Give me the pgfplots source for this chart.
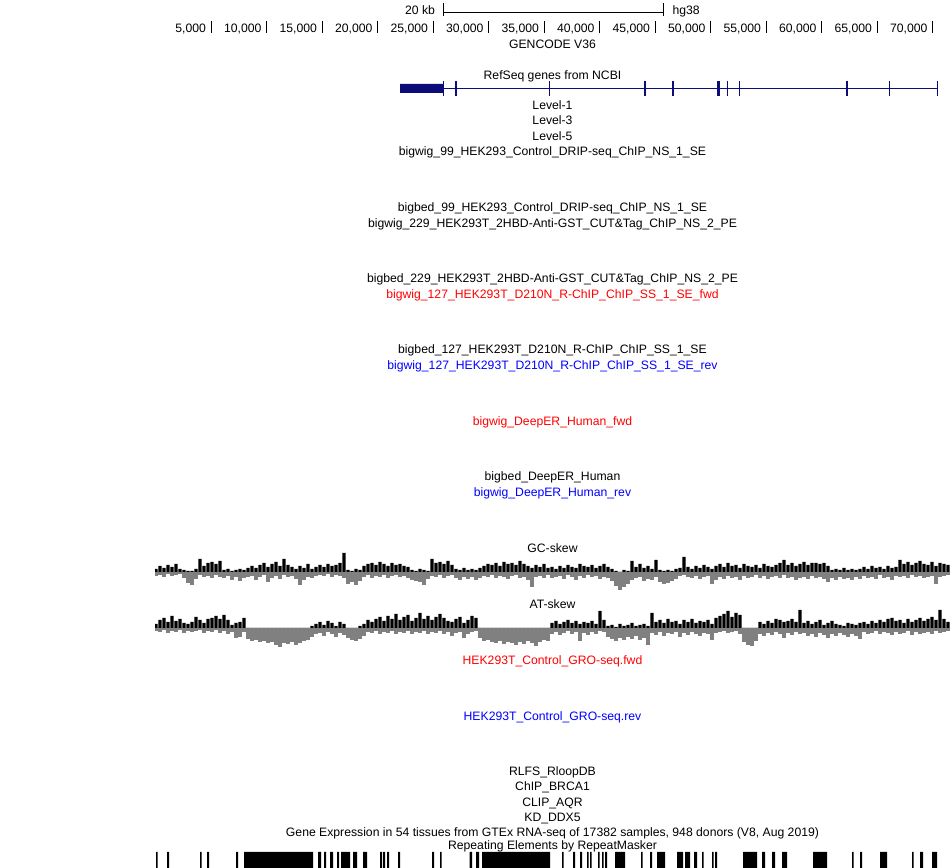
\documentclass[border=0pt]{standalone}
\usepackage{pgfplots}
\pgfplotsset{compat=1.18}
\usepackage{pgfplotstable}
\usepackage{fontspec}
\setmainfont{Liberation Sans}
\definecolor{navy}{RGB}{12,12,120}
\definecolor{ucred}{RGB}{255,0,0}
\definecolor{ucblue}{RGB}{0,0,255}
\definecolor{neggray}{RGB}{128,128,128}

% GC-skew: x (pixel), positive height, negative height
\pgfplotstableread{
x p n
156 3 -4
160 6 -3
164 4 -5
168 7 -2
172 5 -4
176 8 -3
180 3 -2
184 2 -6
188 1 -11
192 1 -13
196 3 -7
200 13 -3
204 6 -5
208 9 -4
212 10 -6
216 8 -3
220 11 -5
224 2 -6
228 3 -4
232 1 -8
236 2 -5
240 3 -9
244 2 -6
248 4 -5
252 6 -4
256 4 -8
260 7 -5
264 9 -3
268 5 -10
272 8 -6
276 10 -4
280 6 -7
284 13 -3
288 7 -5
292 5 -4
296 3 -7
300 6 -13
304 4 -8
308 8 -5
312 3 -6
316 5 -4
320 7 -3
324 5 -4
328 8 -2
332 6 -5
336 7 -3
340 9 -4
344 19 -6
348 2 -12
352 1 -10
356 3 -13
360 2 -9
364 6 -5
368 8 -3
372 9 -6
376 7 -4
380 10 -5
384 8 -3
388 6 -6
392 9 -4
396 7 -3
400 8 -5
404 6 -4
408 5 -6
412 2 -8
416 1 -9
420 3 -10
424 2 -13
428 1 -7
432 13 -4
436 9 -5
440 10 -3
444 8 -6
448 11 -4
452 7 -3
456 3 -6
460 2 -8
464 4 -5
468 2 -7
472 3 -5
476 2 -8
480 4 -6
484 6 -4
488 8 -5
492 7 -3
496 9 -6
500 6 -4
504 10 -5
508 8 -7
512 9 -4
516 7 -3
520 11 -6
524 8 -5
528 6 -8
532 4 -15
536 7 -5
540 5 -4
544 8 -6
548 4 -3
552 5 -6
556 3 -5
560 6 -4
564 4 -7
568 7 -3
572 5 -5
576 4 -8
580 8 -4
584 6 -6
588 5 -3
592 7 -5
596 4 -4
600 6 -7
604 8 -5
608 5 -6
612 3 -9
616 1 -14
620 0 -18
624 2 -15
628 1 -12
632 11 -8
636 5 -6
640 8 -5
644 4 -9
648 6 -7
652 3 -8
656 12 -5
660 2 -10
664 1 -12
668 2 -11
672 1 -9
676 3 -7
680 4 -4
684 15 -3
688 5 -5
692 3 -6
696 6 -4
700 4 -7
704 7 -5
708 5 -4
712 3 -12
716 6 -8
720 8 -5
724 5 -7
728 9 -4
732 6 -6
736 7 -5
740 4 -8
744 8 -4
748 6 -6
752 5 -5
756 7 -3
760 4 -6
764 8 -4
768 6 -7
772 5 -5
776 7 -4
780 9 -6
784 12 -3
788 7 -6
792 9 -5
796 6 -8
800 8 -6
804 10 -5
808 7 -7
812 9 -4
816 9 -6
820 8 -5
824 9 -7
828 6 -10
832 2 -6
836 3 -8
840 2 -5
844 4 -7
848 2 -6
852 3 -8
856 2 -5
860 3 -7
864 5 -4
868 3 -6
872 6 -5
876 4 -7
880 5 -3
884 3 -6
888 6 -5
892 4 -8
896 5 -4
900 12 -5
904 8 -4
908 10 -6
912 7 -3
916 9 -5
920 11 -4
924 8 -6
928 7 -5
932 10 -4
936 6 -12
940 9 -5
944 8 -4
948 7 -3
}\gcskew

% AT-skew
\pgfplotstableread{
x p n
156 4 -3
160 8 -4
164 10 -2
168 6 -5
172 12 -3
176 7 -4
180 9 -2
184 5 -5
188 4 -3
192 6 -4
196 11 -3
200 8 -2
204 5 -5
208 9 -3
212 10 -4
216 12 -2
220 9 -5
224 13 -3
228 8 -6
232 3 -4
236 5 -10
240 6 -9
244 10 -4
248 0 -11
252 0 -13
256 0 -12
260 0 -14
264 0 -13
268 0 -15
272 0 -14
276 0 -17
280 0 -19
284 0 -15
288 0 -16
292 0 -14
296 0 -17
300 0 -15
304 0 -13
308 0 -12
312 2 -9
316 4 -6
320 6 -5
324 3 -8
328 7 -4
332 5 -6
336 2 -9
340 6 -5
344 4 -7
348 0 -10
352 0 -12
356 0 -13
360 2 -11
364 4 -8
368 8 -4
372 6 -5
376 9 -3
380 11 -6
384 7 -4
388 12 -5
392 9 -3
396 14 -6
400 8 -4
404 11 -5
408 13 -3
412 7 -6
416 10 -4
420 15 -5
424 9 -3
428 12 -6
432 8 -4
436 11 -5
440 14 -3
444 10 -6
448 7 -4
452 6 -8
456 9 -5
460 11 -4
464 5 -10
468 8 -6
472 12 -4
476 10 -3
480 0 -10
484 0 -13
488 0 -12
492 0 -14
496 0 -15
500 0 -13
504 0 -16
508 0 -14
512 0 -15
516 0 -17
520 0 -14
524 0 -16
528 0 -13
532 0 -15
536 0 -18
540 0 -14
544 0 -12
548 0 -13
552 5 -6
556 7 -4
560 4 -7
564 6 -5
568 8 -3
572 5 -6
576 7 -4
580 4 -13
584 6 -5
588 5 -7
592 7 -4
596 4 -6
600 17 -3
604 8 -4
608 2 -9
612 3 -11
616 1 -13
620 4 -10
624 2 -12
628 3 -9
632 5 -11
636 2 -8
640 3 -12
644 4 -10
648 2 -17
652 15 -5
656 6 -7
660 8 -4
664 5 -8
668 9 -5
672 6 -6
676 7 -4
680 4 -9
684 8 -5
688 6 -7
692 9 -4
696 5 -6
700 7 -8
704 6 -5
708 8 -6
712 4 -12
716 10 -5
720 12 -4
724 14 -3
728 17 -5
732 11 -4
736 15 -3
740 13 -6
744 0 -14
748 0 -17
752 0 -18
756 0 -13
760 6 -6
764 4 -8
768 7 -5
772 5 -7
776 9 -4
780 8 -6
784 6 -10
788 7 -5
792 9 -7
796 6 -4
800 18 -6
804 5 -5
808 7 -8
812 4 -6
816 6 -9
820 8 -5
824 3 -7
828 5 -10
832 7 -6
836 4 -8
840 3 -5
844 2 -7
848 5 -9
852 4 -6
856 3 -8
860 5 -11
864 6 -4
868 4 -6
872 7 -5
876 5 -3
880 8 -6
884 6 -4
888 9 -5
892 10 -7
896 7 -4
900 8 -6
904 5 -5
908 9 -3
912 6 -7
916 8 -4
920 10 -6
924 7 -5
928 9 -4
932 11 -6
936 8 -3
940 18 -5
944 9 -4
948 6 -3
}\atskew

% RepeatMasker elements as a step function (1 = element present)
\pgfplotstableread{
x v
150 0
156 1
157.5 0
167 1
169 0
200 1
201.5 0
207 1
209 0
236 1
238 0
244 1
313 0
318 1
321 0
324 1
326 0
330 1
333 0
337 1
339 0
341 1
350 0
353 1
357 0
363 1
367 0
380 1
382 0
383 1
385 0
387 1
389 0
398 1
400 0
432 1
434 0
440 1
441.5 0
469.5 1
472 0
476 1
479 0
482 1
550 0
562 1
563.5 0
573 1
575 0
580 1
582 0
587 1
588.5 0
590 1
591.5 0
598 1
599.5 0
602 1
603.5 0
605 1
607 0
615 1
625 0
641 1
642.5 0
650 1
652 0
657 1
665 0
677 1
683 0
685 1
690 0
694 1
697 0
702 1
703.5 0
712 1
713.5 0
715 1
717 0
743 1
757 0
762 1
765 0
772 1
775 0
782 1
787 0
813 1
827 0
852 1
853.5 0
860 1
862 0
880 1
887 0
912 1
913.5 0
920 1
923 0
932 1
937 0
950 0
}\repeats

\begin{document}
\begin{tikzpicture}[font=\fontsize{12.2bp}{14bp}\selectfont]
\useasboundingbox (0,0) rectangle (950bp,868bp);
\begin{axis}[at={(0,0)}, anchor=south west,
  width=950bp, height=868bp, scale only axis,
  xmin=0, xmax=950, ymin=0, ymax=868, y dir=reverse,
  hide axis, clip=false, unbounded coords=jump,
  every node/.style={inner sep=0pt, outer sep=0pt}]

% scale bar
\addplot[black, line width=1bp] coordinates {(443,3.5)(443,16.5)(443,nan)(443,13)(663,13)(663,nan)(663,3.5)(663,16.5)};
\node[anchor=base east] at (axis cs:438.5,14.5) {20 kb};
\node[anchor=base west] at (axis cs:669,14.5) {hg38};

% ruler ticks
\addplot[black, line width=1bp] coordinates {
(211,21)(211,33)(211,nan)
(266.5,21)(266.5,33)(266.5,nan)
(322,21)(322,33)(322,nan)
(377.5,21)(377.5,33)(377.5,nan)
(433,21)(433,33)(433,nan)
(488.5,21)(488.5,33)(488.5,nan)
(544,21)(544,33)(544,nan)
(599.5,21)(599.5,33)(599.5,nan)
(655,21)(655,33)(655,nan)
(710.5,21)(710.5,33)(710.5,nan)
(766,21)(766,33)(766,nan)
(821.5,21)(821.5,33)(821.5,nan)
(877,21)(877,33)(877,nan)
(932.5,21)(932.5,33)};
\node[anchor=base east] at (axis cs:209.5,32.5) {5,000};
\node[anchor=base east] at (axis cs:265,32.5) {10,000};
\node[anchor=base east] at (axis cs:320.5,32.5) {15,000};
\node[anchor=base east] at (axis cs:376,32.5) {20,000};
\node[anchor=base east] at (axis cs:431.5,32.5) {25,000};
\node[anchor=base east] at (axis cs:487,32.5) {30,000};
\node[anchor=base east] at (axis cs:542.5,32.5) {35,000};
\node[anchor=base east] at (axis cs:598,32.5) {40,000};
\node[anchor=base east] at (axis cs:653.5,32.5) {45,000};
\node[anchor=base east] at (axis cs:709,32.5) {50,000};
\node[anchor=base east] at (axis cs:764.5,32.5) {55,000};
\node[anchor=base east] at (axis cs:820,32.5) {60,000};
\node[anchor=base east] at (axis cs:875.5,32.5) {65,000};
\node[anchor=base east] at (axis cs:931,32.5) {70,000};

\node[anchor=base] at (axis cs:552.5,48.5) {GENCODE V36};
\node[anchor=base] at (axis cs:552.5,79.5) {RefSeq genes from NCBI};

% gene model
\addplot[fill=navy, draw=none] coordinates {(400,84)(443,84)(443,93)(400,93)(400,84)};
\addplot[navy, line width=1bp] coordinates {(443,88.5)(937,88.5)};
\addplot[navy, line width=1bp] coordinates {
(443,81)(443,96)(443,nan)
(549,81)(549,96)(549,nan)
(727.5,81)(727.5,96)(727.5,nan)
(739,81)(739,96)(739,nan)
(889,81)(889,96)(889,nan)
(937,81)(937,96)};
\addplot[navy, line width=2.2bp] coordinates {
(456,81)(456,96)(456,nan)
(645,81)(645,96)(645,nan)
(673,81)(673,96)(673,nan)
(718.5,81)(718.5,96)(718.5,nan)
(847,81)(847,96)};

\node[anchor=base] at (axis cs:552.5,109.5) {Level-1};
\node[anchor=base] at (axis cs:552.5,124.8) {Level-3};
\node[anchor=base] at (axis cs:552.5,140.1) {Level-5};
\node[anchor=base] at (axis cs:552.5,155.5) {bigwig\_99\_HEK293\_Control\_DRIP-seq\_ChIP\_NS\_1\_SE};
\node[anchor=base] at (axis cs:552.5,211.5) {bigbed\_99\_HEK293\_Control\_DRIP-seq\_ChIP\_NS\_1\_SE};
\node[anchor=base] at (axis cs:552.5,227) {bigwig\_229\_HEK293T\_2HBD-Anti-GST\_CUT\&Tag\_ChIP\_NS\_2\_PE};
\node[anchor=base] at (axis cs:552.5,282.5) {bigbed\_229\_HEK293T\_2HBD-Anti-GST\_CUT\&Tag\_ChIP\_NS\_2\_PE};
\node[anchor=base, text=ucred] at (axis cs:552.5,298) {bigwig\_127\_HEK293T\_D210N\_R-ChIP\_ChIP\_SS\_1\_SE\_fwd};
\node[anchor=base] at (axis cs:552.5,353.5) {bigbed\_127\_HEK293T\_D210N\_R-ChIP\_ChIP\_SS\_1\_SE};
\node[anchor=base, text=ucblue] at (axis cs:552.5,369) {bigwig\_127\_HEK293T\_D210N\_R-ChIP\_ChIP\_SS\_1\_SE\_rev};
\node[anchor=base, text=ucred] at (axis cs:552.5,425) {bigwig\_DeepER\_Human\_fwd};
\node[anchor=base] at (axis cs:552.5,480.5) {bigbed\_DeepER\_Human};
\node[anchor=base, text=ucblue] at (axis cs:552.5,496) {bigwig\_DeepER\_Human\_rev};
\node[anchor=base] at (axis cs:552.5,552) {GC-skew};
\node[anchor=base] at (axis cs:552.5,608) {AT-skew};
\node[anchor=base, text=ucred] at (axis cs:552.5,664) {HEK293T\_Control\_GRO-seq.fwd};
\node[anchor=base, text=ucblue] at (axis cs:552.5,720) {HEK293T\_Control\_GRO-seq.rev};
\node[anchor=base] at (axis cs:552.5,775.5) {RLFS\_RloopDB};
\node[anchor=base] at (axis cs:552.5,790.8) {ChIP\_BRCA1};
\node[anchor=base] at (axis cs:552.5,806.1) {CLIP\_AQR};
\node[anchor=base] at (axis cs:552.5,821.4) {KD\_DDX5};
\node[anchor=base] at (axis cs:552.5,836.5) {Gene Expression in 54 tissues from GTEx RNA-seq of 17382 samples, 948 donors (V8, Aug 2019)};
\node[anchor=base] at (axis cs:552.5,849.5) {Repeating Elements by RepeatMasker};
\end{axis}

% GC-skew track
\begin{axis}[at={(155bp,276bp)}, anchor=south west,
  width=795bp, height=40bp, scale only axis,
  xmin=155, xmax=950, ymin=-20, ymax=20, hide axis]
\addplot[ybar, bar width=3.6, bar shift=0pt, fill=neggray, draw=none] table[x=x, y=n] {\gcskew};
\addplot[ybar, bar width=3.1, bar shift=0pt, fill=black, draw=none] table[x=x, y=p] {\gcskew};
\end{axis}

% AT-skew track
\begin{axis}[at={(155bp,220bp)}, anchor=south west,
  width=795bp, height=40bp, scale only axis,
  xmin=155, xmax=950, ymin=-20, ymax=20, hide axis]
\addplot[ybar, bar width=3.6, bar shift=0pt, fill=neggray, draw=none] table[x=x, y=n] {\atskew};
\addplot[ybar, bar width=3.1, bar shift=0pt, fill=black, draw=none] table[x=x, y=p] {\atskew};
\end{axis}

% RepeatMasker track
\begin{axis}[at={(0,0)}, anchor=south west,
  width=950bp, height=16bp, scale only axis,
  xmin=0, xmax=950, ymin=0, ymax=1, hide axis]
\addplot[fill=black, draw=none, const plot mark left] table[x=x, y=v] {\repeats} \closedcycle;
\end{axis}
\end{tikzpicture}
\end{document}
